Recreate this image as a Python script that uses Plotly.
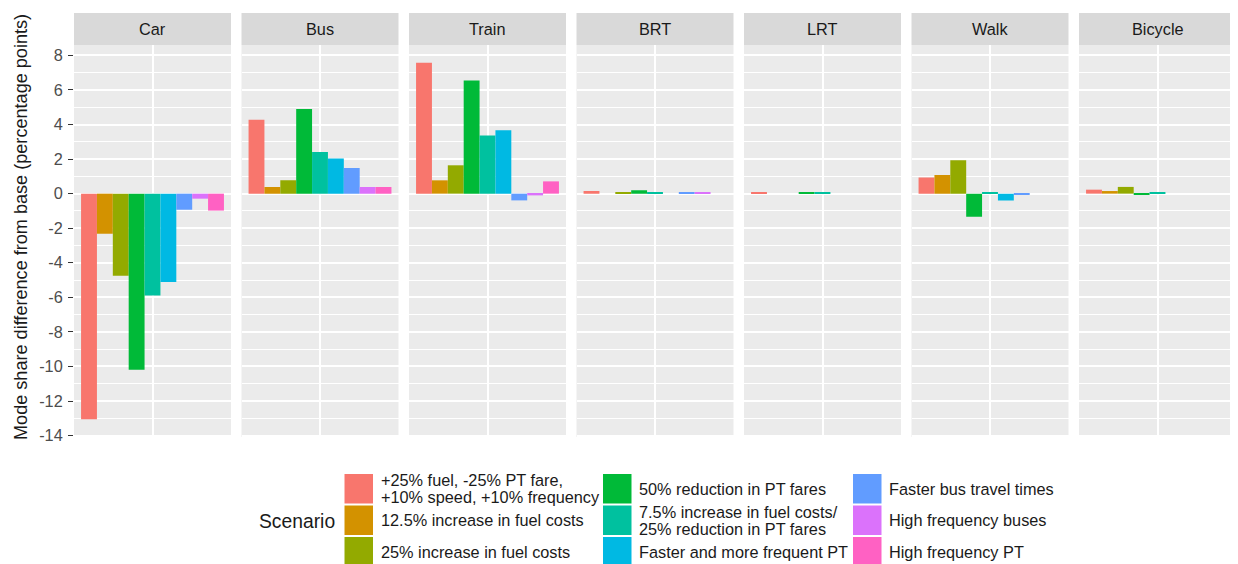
import plotly.graph_objects as go

# ---------------- data ----------------
modes = ["Car", "Bus", "Train", "BRT", "LRT", "Walk", "Bicycle"]

scenarios = [
    "+25% fuel, -25% PT fare,\n+10% speed, +10% frequency",
    "12.5% increase in fuel costs",
    "25% increase in fuel costs",
    "50% reduction in PT fares",
    "7.5% increase in fuel costs/\n25% reduction in PT fares",
    "Faster and more frequent PT",
    "Faster bus travel times",
    "High frequency buses",
    "High frequency PT",
]

colors = ["#F8766D", "#D39200", "#93AA00", "#00BA38", "#00C19F",
          "#00B9E3", "#619CFF", "#DB72FB", "#FF61C3"]

# values per scenario, in the order of `modes`
combined_package = [-13.05, 4.28, 7.57, 0.15, 0.07, 0.93, 0.23]
fuel_up_12_5 = [-2.32, 0.39, 0.77, 0.00, 0.00, 1.08, 0.15]
fuel_up_25 = [-4.75, 0.77, 1.64, 0.07, 0.00, 1.93, 0.39]
fares_down_50 = [-10.19, 4.90, 6.54, 0.20, 0.05, -1.33, -0.07]
fuel_up_fares_down = [-5.90, 2.41, 3.36, 0.05, 0.05, 0.08, 0.09]
faster_frequent_pt = [-5.11, 2.03, 3.67, 0.00, 0.00, -0.40, 0.00]
faster_bus = [-0.93, 1.49, -0.39, 0.05, 0.00, -0.05, 0.00]
hf_buses = [-0.29, 0.39, -0.10, 0.05, 0.00, 0.00, 0.00]
hf_pt = [-0.98, 0.39, 0.71, 0.00, 0.00, 0.00, 0.00]

series = [combined_package, fuel_up_12_5, fuel_up_25, fares_down_50,
          fuel_up_fares_down, faster_frequent_pt, faster_bus, hf_buses, hf_pt]

y_ticks = [-14, -12, -10, -8, -6, -4, -2, 0, 2, 4, 6, 8]
y_tick_labels = ["-14", "-12", "-10", "-8", "-6", "-4", "-2", "0", "2", "4", "6", "8"]
y_minor = [-13, -11, -9, -7, -5, -3, -1, 1, 3, 5, 7]

y_title = "Mode share difference from base (percentage points)"
legend_title = "Scenario"

# ---------------- layout geometry ----------------
PAGE_W, PAGE_H = 1238, 564
OFF = 8                                   # default page body margin
W, H = PAGE_W - OFF, PAGE_H - OFF
L, R, T, B = 74, 1236, 13, 437           # plot area in page pixels
PW, PH = R - L, B - T
STRIP_H = 32
panel_w = 157
gap = (PW - 7 * panel_w) / 6

FONT = "Liberation Sans, Arial, sans-serif"


def px_x(px):
    return (px - L) / PW


def px_y(py):
    return (B - py) / PH


allv = [v for s in series for v in s]
vmin, vmax = min(allv), max(allv)
span = vmax - vmin
y_range = [vmin - 0.05 * span, vmax + 0.05 * span]

fig = go.Figure()
layout = dict(
    width=W, height=H,
    margin=dict(l=L - OFF, r=PAGE_W - R, t=T - OFF, b=PAGE_H - B, pad=0),
    paper_bgcolor="white", plot_bgcolor="#EBEBEB",
    barmode="group", bargap=0.09, bargroupgap=0,
    showlegend=False,
    font=dict(family=FONT, color="#1A1A1A"),
)
shapes, annotations = [], []
panel_top = px_y(T + STRIP_H)

for i, mode in enumerate(modes):
    sfx = "" if i == 0 else str(i + 1)
    x0 = L + i * (panel_w + gap)
    x1 = x0 + panel_w
    dom = [px_x(x0), px_x(x1)]
    for j, scen in enumerate(scenarios):
        fig.add_trace(go.Bar(
            x=[mode], y=[series[j][i]],
            name=scen.replace("\n", " "),
            marker=dict(color=colors[j], line=dict(width=0)),
            xaxis="x" + sfx, yaxis="y" + sfx,
            hovertemplate=mode + "<br>" + scen.replace("\n", " ") + ": %{y}<extra></extra>",
        ))
    layout["xaxis" + sfx] = dict(
        domain=dom, anchor="y" + sfx, type="category", range=[-0.5, 0.5],
        showticklabels=False, ticks="", showgrid=True, gridcolor="white",
        gridwidth=1.6, zeroline=False, showline=False, fixedrange=True,
    )
    layout["yaxis" + sfx] = dict(
        domain=[0, panel_top], anchor="x" + sfx, range=y_range,
        tickmode="array", tickvals=y_ticks, ticktext=y_tick_labels,
        showticklabels=(i == 0), ticks="outside" if i == 0 else "",
        ticklen=5, tickwidth=1, tickcolor="#333333",
        tickfont=dict(family=FONT, size=16.3, color="#4D4D4D"),
        ticklabelstandoff=2,
        showgrid=True, gridcolor="white", gridwidth=1.6,
        minor=dict(tickmode="array", tickvals=y_minor, showgrid=True,
                   gridcolor="white", gridwidth=0.9, ticks=""),
        zeroline=False, showline=False, fixedrange=True,
    )
    # facet strip
    shapes.append(dict(type="rect", xref="paper", yref="paper",
                       x0=dom[0], x1=dom[1], y0=panel_top, y1=1,
                       fillcolor="#D9D9D9", line=dict(width=0), layer="below"))
    annotations.append(dict(xref="paper", yref="paper",
                            x=(dom[0] + dom[1]) / 2, y=(panel_top + 1) / 2,
                            text=mode, showarrow=False,
                            font=dict(family=FONT, size=16.3, color="#1A1A1A"),
                            xanchor="center", yanchor="middle"))

# y-axis title
annotations.append(dict(xref="paper", yref="paper", x=px_x(21), y=px_y((T + B) / 2 + 2),
                        text=y_title, textangle=-90, showarrow=False,
                        font=dict(family=FONT, size=18.1, color="#1A1A1A"),
                        xanchor="center", yanchor="middle"))

# legend (3 columns, filled column-wise as in the reference)
annotations.append(dict(xref="paper", yref="paper", x=px_x(257), y=px_y(521),
                        text=legend_title, showarrow=False,
                        font=dict(family=FONT, size=19.3, color="#1A1A1A"),
                        xanchor="left", yanchor="middle"))
key_cols = [344.5, 603, 853]
key_w = 28.5
row_tops = [474, 505.5, 537]
key_h = 29.5
line_gap = 16.5
for j, scen in enumerate(scenarios):
    c, r = divmod(j, 3)
    kx, ky = key_cols[c], row_tops[r]
    shapes.append(dict(type="rect", xref="paper", yref="paper",
                       x0=px_x(kx), x1=px_x(kx + key_w),
                       y0=px_y(ky + key_h), y1=px_y(ky),
                       fillcolor=colors[j], line=dict(width=0)))
    lines = scen.split("\n")
    cy = ky + key_h / 2
    n = len(lines)
    for k, ln in enumerate(lines):
        ty = min(cy + (k - (n - 1) / 2) * line_gap, 552.5)
        annotations.append(dict(xref="paper", yref="paper",
                                x=px_x(kx + key_w + 5.5), y=px_y(ty),
                                text=ln, showarrow=False,
                                font=dict(family=FONT, size=16.3, color="#1A1A1A"),
                                xanchor="left", yanchor="middle"))

layout["shapes"] = shapes
layout["annotations"] = annotations
fig.update_layout(**layout)
fig.write_html("out.html")
